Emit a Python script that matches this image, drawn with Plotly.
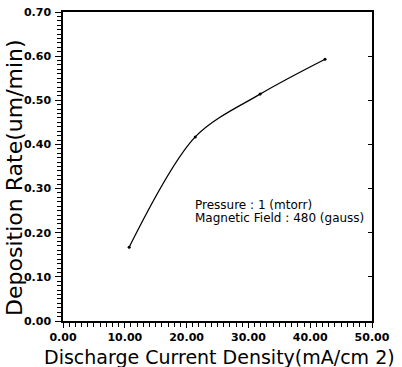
import plotly.graph_objects as go

current_density = [10.7, 21.4, 31.9, 42.4]
deposition_rate = [0.167, 0.417, 0.514, 0.593]
x_ticks = [0, 10, 20, 30, 40, 50]
x_tick_labels = ["0.00", "10.00", "20.00", "30.00", "40.00", "50.00"]
y_ticks = [0, 0.1, 0.2, 0.3, 0.4, 0.5, 0.6, 0.7]
y_tick_labels = ["0.00", "0.10", "0.20", "0.30", "0.40", "0.50", "0.60", "0.70"]
x_minor_ticks = [i for i in range(0, 51)]
y_minor_ticks = [i / 100 for i in range(0, 71)]
x_title = "Discharge Current Density(mA/cm 2)"
y_title = "Deposition Rate(um/min)"
note_lines = ["Pressure : 1 (mtorr)", "Magnetic Field : 480 (gauss)"]
note_y = [0.263, 0.233]

tick_font = dict(family="DejaVu Sans", size=11, color="black", weight="bold")

fig = go.Figure()
fig.add_trace(go.Scatter(
    x=current_density, y=deposition_rate,
    mode="lines+markers",
    line=dict(color="black", width=1.3, shape="spline", smoothing=0.9),
    marker=dict(color="black", size=3),
    showlegend=False,
))
fig.add_trace(go.Scatter(x=[current_density[0]], y=[deposition_rate[0]], yaxis="y2",
                         mode="markers", marker=dict(opacity=0), showlegend=False,
                         hoverinfo="skip"))

annotations = [dict(
    x=21.0, y=yv, xref="x", yref="y",
    text=t, showarrow=False, xanchor="left", yanchor="middle", align="left",
    font=dict(family="DejaVu Sans", size=12, color="black"),
) for t, yv in zip(note_lines, note_y)]
annotations.append(dict(
    x=0.505, y=-0.116, xref="paper", yref="paper", text=x_title, showarrow=False,
    xanchor="center", yanchor="middle",
    font=dict(family="DejaVu Sans", size=19, color="black"),
))
annotations.append(dict(
    x=-0.159, y=0.466, xref="paper", yref="paper", text=y_title, showarrow=False,
    xanchor="center", yanchor="middle", textangle=-90,
    font=dict(family="DejaVu Sans", size=22, color="black"),
))

fig.update_layout(
    width=402, height=367,
    margin=dict(l=63, r=30, t=12, b=46),
    paper_bgcolor="white", plot_bgcolor="white",
    xaxis=dict(
        range=[0, 50], tickvals=x_ticks, ticktext=x_tick_labels,
        showgrid=False, zeroline=False, automargin=False,
        showline=True, linecolor="black", linewidth=1.5, mirror=True,
        ticks="outside", ticklen=5, tickwidth=1, tickcolor="black",
        minor=dict(tickmode="array", tickvals=x_minor_ticks, ticks="outside",
                   ticklen=4, tickwidth=1, tickcolor="black", showgrid=False),
        tickfont=tick_font, ticklabelstandoff=0,
    ),
    yaxis=dict(
        range=[0, 0.7], tickvals=y_ticks, ticktext=y_tick_labels,
        showgrid=False, zeroline=False, automargin=False,
        showline=True, linecolor="black", linewidth=1.5, mirror=True,
        ticks="outside", ticklen=6, tickwidth=1, tickcolor="black",
        minor=dict(tickmode="array", tickvals=y_minor_ticks, ticks="outside",
                   ticklen=4, tickwidth=1, tickcolor="black", showgrid=False),
        tickfont=tick_font, ticklabelstandoff=2,
    ),
    yaxis2=dict(
        overlaying="y", side="right", range=[0, 0.7], anchor="x",
        tickvals=y_ticks, showticklabels=False, automargin=False,
        ticks="inside", ticklen=4, tickwidth=1, tickcolor="black",
        showgrid=False, zeroline=False, showline=False,
    ),
    annotations=annotations,
)

fig.write_html("out.html")
